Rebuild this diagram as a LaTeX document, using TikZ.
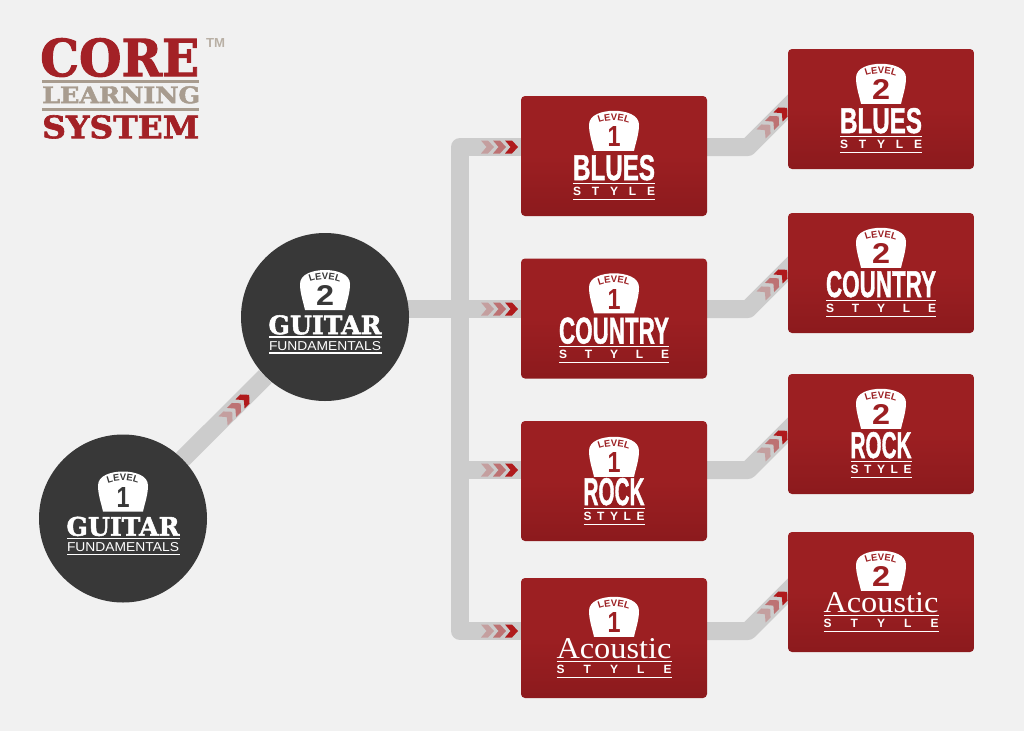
\documentclass[tikz,border=0pt]{standalone}
\usepackage{graphicx}
\usepackage{fontspec}
\setmainfont{Liberation Sans}
\newfontfamily\slabfont[FakeBold=2]{DejaVu Serif Bold}
\newfontfamily\heavyfont[FakeBold=1.5]{Liberation Sans Bold}
\newfontfamily\bookfont{Liberation Serif}
\usetikzlibrary{backgrounds,decorations.text}

\definecolor{pagegrey}{HTML}{F1F1F1}
\definecolor{trackgrey}{HTML}{CCCCCC}
\definecolor{discgrey}{HTML}{383838}
\definecolor{cardred}{HTML}{9C1F22}
\definecolor{cardlow}{HTML}{8C1A1D}
\definecolor{logored}{HTML}{A32126}
\definecolor{logotan}{HTML}{A89C8F}
\definecolor{arrowred}{HTML}{B01A1C}

\tikzset{
    track/.style={draw=trackgrey, line width=18, line join=round},
    levelcard/.style={rounded corners=4, top color=cardred, bottom color=cardlow, middle color=cardred,
        minimum width=186, minimum height=120, inner sep=0},
    leveldisc/.style={circle, fill=discgrey, minimum size=168, inner sep=0},
    fitted/.style={inner sep=0, text=white, anchor=north},
    wordrule/.style={draw=white, line width=1.3},
    logoword/.style={inner sep=0, anchor=north west}
}

% #1 centre, #2 number, #3 colour of the print, #4 width of the number
\newcommand{\levelshield}[4]{
    \begin{scope}[shift={(#1)}]
        \fill[white] (-20,40) .. controls (-22,31) and (-25,23) .. (-25,14)
            .. controls (-25,4) and (-12,0) .. (0,0)
            .. controls (12,0) and (25,4) .. (25,14)
            .. controls (25,23) and (22,31) .. (20,40) -- cycle;
        \path[decorate, decoration={text along path, text align=center, text color=#3,
            text={|\fontsize{9.5}{9.5}\selectfont\bfseries|LEVEL}}]
            (-18,13.5) .. controls (-8,8) and (8,8) .. (18,13.5);
        \node[inner sep=0, text=#3, anchor=north] (#1-number) at (0,15.5)
            {\resizebox{#4pt}{20pt}{\bfseries #2}};
    \end{scope}
}

% #1 card, #2 number, #3 width of number, #4 word, #5 width, #6 shield top, #7 word top, #8 word height, #9 upper rule
\newcommand{\cardtext}[9]{
    \coordinate (#1-top) at ([yshift=-#6]#1.north);
    \levelshield{#1-top}{#2}{cardred}{#3}
    \node[fitted] (#1-word) at ([yshift=-#7]#1.north) {\resizebox{#5pt}{#8pt}{#4}};
    \draw[wordrule] ([xshift=-#5/2,yshift=-#9]#1.north) -- ++(#5,0);
    \draw[wordrule] ([xshift=-#5/2,yshift=-#9-16]#1.north) -- ++(#5,0);
    \node[fitted, anchor=center] (#1-style) at ([yshift=-#9-8]#1.north)
        {\fontsize{12}{12}\selectfont\bfseries\makebox[#5pt][s]{S\hfill T\hfill Y\hfill L\hfill E}};
}

% #1 disc, #2 number, #3 width of number
\newcommand{\disctext}[3]{
    \coordinate (#1-shield) at ([yshift=47]#1.center);
    \levelshield{#1-shield}{#2}{discgrey}{#3}
    \node[fitted] (#1-word) at ([yshift=2]#1.center) {\resizebox{113pt}{19pt}{\slabfont GUITAR}};
    \draw[wordrule] ([xshift=-56,yshift=-20]#1.center) -- ++(113,0);
    \draw[wordrule] ([xshift=-56,yshift=-36]#1.center) -- ++(113,0);
    \node[fitted] (#1-small) at ([yshift=-24]#1.center) {\resizebox{112pt}{9pt}{FUNDAMENTALS}};
}

% #1 start, #2 angle
\newcommand{\chevrons}[2]{
    \begin{scope}[shift={(#1)}, rotate=#2]
        \foreach \n/\fade in {0/.25, 1/.5, 2/1} {
            \fill[arrowred, opacity=\fade, xshift=12*\n] (0,-6.5) -- (7,-6.5) -- (13,0) -- (7,6.5) -- (0,6.5) -- (5.5,0) -- cycle;
        }
    \end{scope}
}

\begin{document}
\begin{tikzpicture}[x=1pt, y=-1pt]
    \useasboundingbox (0,0) rectangle (1024,731);

    \node[leveldisc] (guitar1) at (123,518.5) {};
    \node[leveldisc] (guitar2) at (325,317) {};

    \node[levelcard] (blues1) at (614,156) {};
    \node[levelcard] (country1) at (614,318.5) {};
    \node[levelcard] (rock1) at (614,481) {};
    \node[levelcard] (acoustic1) at (614,638) {};

    \node[levelcard] (blues2) at (881,109) {};
    \node[levelcard] (country2) at (881,273) {};
    \node[levelcard] (rock2) at (881,434) {};
    \node[levelcard] (acoustic2) at (881,592) {};

    \coordinate (topbend) at (460,147);
    \coordinate (junction) at (460,309);
    \coordinate (rockjoin) at (460,470);
    \coordinate (botbend) at (460,631);

    \coordinate (bluesbend) at (748,147);
    \coordinate (countrybend) at (748,309);
    \coordinate (rockbend) at (748,470);
    \coordinate (acousticbend) at (748,631);

    \coordinate (bluesend) at (800,95);
    \coordinate (countryend) at (800,257);
    \coordinate (rockend) at (800,418);
    \coordinate (acousticend) at (800,579);

    \begin{scope}[on background layer]
        \fill[pagegrey] (0,0) rectangle (1024,731);
        \draw[track] (guitar1) -- (guitar2);
        \draw[track] (guitar2 |- junction) -- (country1 |- junction);
        \draw[track] (rockjoin) -- (rock1 |- rockjoin);
        \draw[track] (blues1 |- topbend) -- (topbend) -- (botbend) -- (acoustic1 |- botbend);
        \draw[track] (blues1 |- bluesbend) -- (bluesbend) -- (bluesend);
        \draw[track] (country1 |- countrybend) -- (countrybend) -- (countryend);
        \draw[track] (rock1 |- rockbend) -- (rockbend) -- (rockend);
        \draw[track] (acoustic1 |- acousticbend) -- (acousticbend) -- (acousticend);
    \end{scope}

    % arrows on the tracks
    \chevrons{223,421}{45}
    \chevrons{481,147}{0}
    \chevrons{481,309}{0}
    \chevrons{481,470}{0}
    \chevrons{481,631}{0}
    \chevrons{761,134}{45}
    \chevrons{761,296}{45}
    \chevrons{761,457}{45}
    \chevrons{761,618}{45}

    \disctext{guitar1}{1}{13}
    \disctext{guitar2}{2}{18}

    \cardtext{blues1}{1}{13}{\heavyfont BLUES}{82}{15}{59}{25}{88}
    \cardtext{country1}{1}{13}{\heavyfont COUNTRY}{110}{15}{59}{26}{88}
    \cardtext{rock1}{1}{13}{\heavyfont ROCK}{61}{16}{57}{27}{88}
    \cardtext{acoustic1}{1}{13}{\bookfont Acoustic}{115}{19}{60}{20}{84}

    \cardtext{blues2}{2}{18}{\heavyfont BLUES}{82}{15}{59}{25}{88}
    \cardtext{country2}{2}{18}{\heavyfont COUNTRY}{110}{15}{58}{26}{88}
    \cardtext{rock2}{2}{18}{\heavyfont ROCK}{61}{15}{58}{26}{88}
    \cardtext{acoustic2}{2}{18}{\bookfont Acoustic}{115}{19}{60}{20}{84}

    % logo
    \node[logoword, text=logored] (core) at (40,38) {\resizebox{159pt}{38pt}{\slabfont CORE}};
    \node[logoword, text=logotan] (learning) at (42,86) {\resizebox{158pt}{17pt}{\slabfont LEARNING}};
    \node[logoword, text=logored] (system) at (42,115) {\resizebox{157pt}{23pt}{\slabfont SYSTEM}};
    \node[logoword, text=logotan!80] (tm) at (206,38) {\resizebox{19pt}{9pt}{\bfseries TM}};
    \draw[logotan, line width=3] (core.south west -| learning.west) ++(0,4.5) -- ++(157,0);
    \draw[logotan, line width=3] (learning.south west) ++(0,6) -- ++(157,0);
\end{tikzpicture}
\end{document}
